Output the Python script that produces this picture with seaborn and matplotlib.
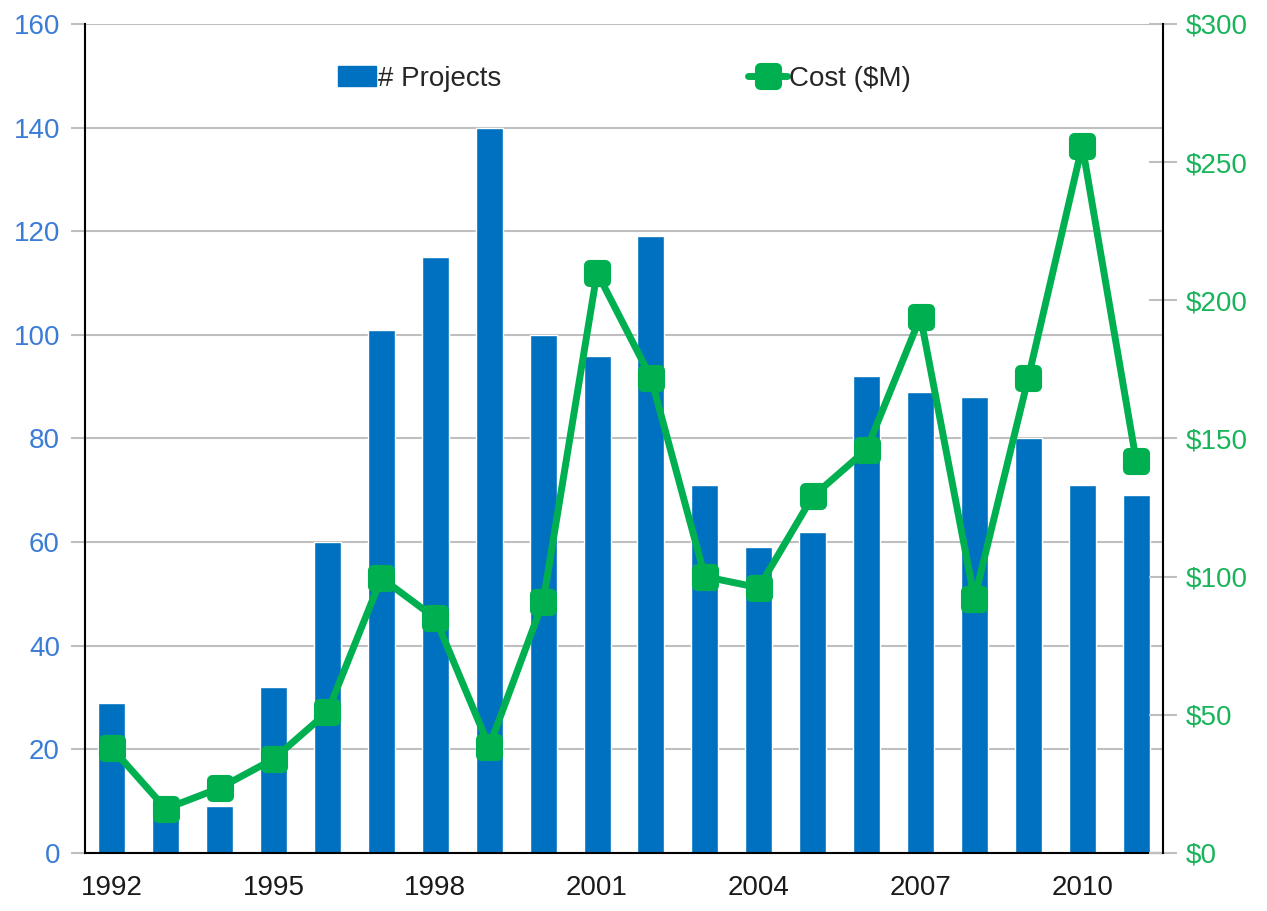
import matplotlib
matplotlib.use('Agg')
import matplotlib.pyplot as plt
from matplotlib.markers import MarkerStyle
from matplotlib.lines import Line2D
from matplotlib.patches import Patch
import seaborn as sns
import pandas as pd

years = list(range(1992, 2012))
projects = [29, 8, 9, 32, 60, 101, 115, 140, 100, 96, 119, 71, 59, 62, 92, 89, 88, 80, 71, 69]
cost = [38, 16, 23.5, 34, 51, 99.5, 85, 38.5, 91, 210, 172, 100, 96, 129, 146, 194, 92, 172, 256, 142]
year_labels = [1992, 1995, 1998, 2001, 2004, 2007, 2010]

df = pd.DataFrame({'Year': years, 'Projects': projects, 'Cost': cost})

sns.set_style('white')
plt.rcParams['font.family'] = ['Liberation Sans', 'DejaVu Sans']

blue = '#0070C0'
green = '#00B050'
grid_c = '#BFBFBF'
fs = 20

fig = plt.figure(figsize=(12.67, 9.11), dpi=100)
ax = fig.add_axes([0.067, 0.0637, 0.851, 0.91])

sns.barplot(data=df, x='Year', y='Projects', native_scale=True, color=blue,
            width=0.5, saturation=1, ax=ax, zorder=2)
ax.set_xlim(1991.5, 2011.5)
ax.set_ylim(0, 160)
ax.set_yticks(range(0, 161, 20))
ax.yaxis.grid(True, color=grid_c, linewidth=1.5)
ax.set_axisbelow(True)
ax.set_xlabel('')
ax.set_ylabel('')
ax.set_xticks(year_labels)
ax.set_xticklabels([str(y) for y in year_labels])
ax.set_xticks([y - 0.5 for y in years] + [2011.5], minor=True)
ax.tick_params(axis='x', which='major', length=0, labelsize=fs, pad=16, labelcolor='#1a1a1a')
ax.tick_params(axis='x', which='minor', direction='out', length=10, width=1.5, color=grid_c)
ax.tick_params(axis='y', direction='out', length=10, width=1.5, color=grid_c,
               labelsize=fs, labelcolor='#3A7CD6', pad=8)
for s in ['left', 'bottom']:
    ax.spines[s].set_color('black')
    ax.spines[s].set_linewidth(1.5)
ax.spines['top'].set_visible(False)
ax.spines['right'].set_visible(False)

ax2 = ax.twinx()
mk = MarkerStyle('s', joinstyle='round')
sns.lineplot(data=df, x='Year', y='Cost', color=green, linewidth=5,
             marker=mk, markersize=12, markeredgewidth=8, markeredgecolor=green,
             ax=ax2, zorder=3)
ax2.set_ylim(0, 300)
ax2.set_yticks(range(0, 301, 50))
ax2.set_yticklabels(['$' + str(v) for v in range(0, 301, 50)])
ax2.set_ylabel('')
ax2.tick_params(axis='y', direction='inout', length=20, width=1.5, color=grid_c,
                labelsize=fs, labelcolor='#19B45A', pad=6)
ax2.spines['right'].set_color('black')
ax2.spines['right'].set_linewidth(1.5)
for s in ['top', 'left', 'bottom']:
    ax2.spines[s].set_visible(False)
ax2.set_xlim(1991.5, 2011.5)

handles = [Patch(color=blue),
           Line2D([], [], color=green, linewidth=5, marker=mk, markersize=12,
                  markeredgewidth=8)]
ax2.legend(handles, ['# Projects', 'Cost ($M)'], loc='upper center',
           bbox_to_anchor=(0.5, 0.98), ncol=2, frameon=False, fontsize=fs,
           handlelength=1.4, handletextpad=0.05, columnspacing=8.9)

fig.savefig('out.png', dpi=100)
